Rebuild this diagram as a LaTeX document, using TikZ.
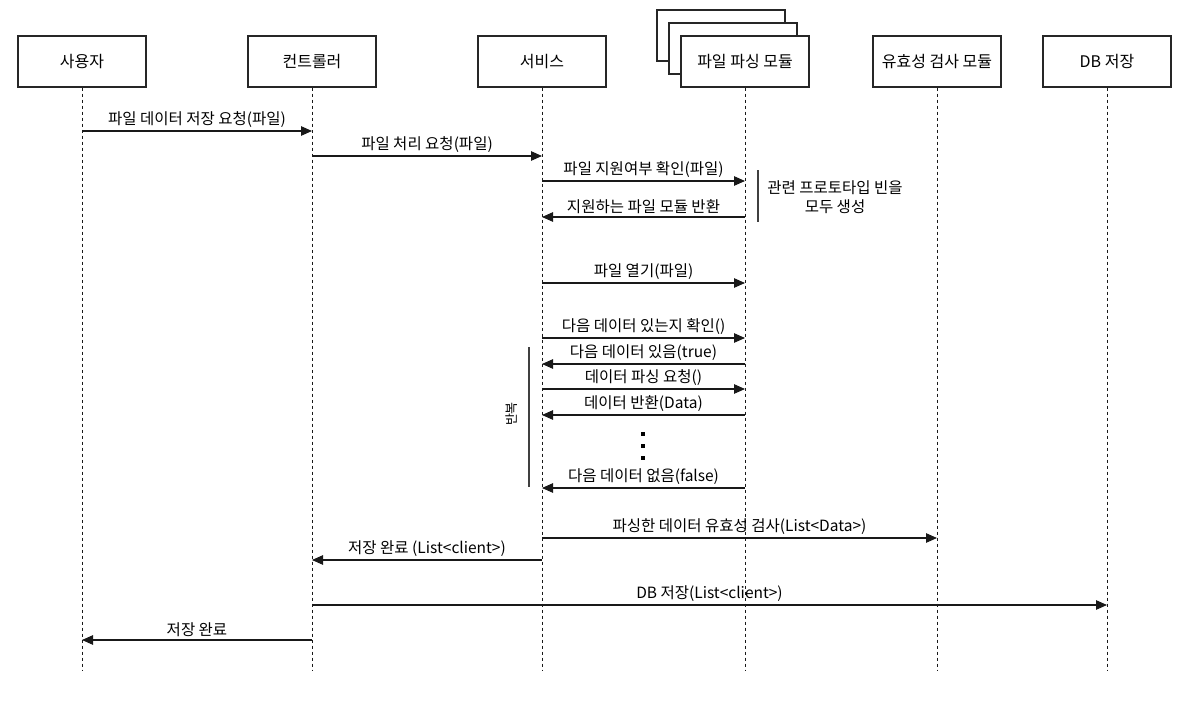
\documentclass[tikz,border=0pt]{standalone}
\usepackage{fontspec}
\setmainfont{Noto Sans CJK KR}
\usetikzlibrary{arrows.meta}
\tikzset{
  actor/.style={draw=black!85,line width=1.1pt,fill=white,minimum width=128pt,minimum height=51pt,inner sep=0pt,font=\fontsize{16}{18}\selectfont},
  life/.style={draw=black!90,line width=1pt,dash pattern=on 3pt off 3pt},
  msg/.style={draw=black!90,line width=1.1pt,-{Triangle[length=11pt,width=9.5pt]}},
  lbl/.style={font=\fontsize{15.5}{17}\selectfont,inner sep=1pt,anchor=south,yshift=2pt},
  bar/.style={draw=black!75,line width=1.2pt},
  dot/.style={fill=black,minimum width=3.5pt,minimum height=4.5pt,inner sep=0pt}
}
\begin{document}
\begin{tikzpicture}[x=1pt,y=-1pt]
\useasboundingbox (0,0) rectangle (1197,709);
% stacked boxes behind parser
\draw[draw=black!85,line width=1.1pt,fill=white] (657,10) rectangle (785,61);
\draw[draw=black!85,line width=1.1pt,fill=white] (669,23) rectangle (797,74);
% actors
\node[actor] (usr) at (82,61.5) {사용자};
\node[actor] (ctl) at (312,61.5) {컨트롤러};
\node[actor] (svc) at (542,61.5) {서비스};
\node[actor] (prs) at (745,61.5) {파일 파싱 모듈};
\node[actor] (val) at (937,61.5) {유효성 검사 모듈};
\node[actor] (db) at (1107,61.5) {DB 저장};
% lifeline ends
\coordinate (usrE) at (82,670);
\coordinate (ctlE) at (312,670);
\coordinate (svcE) at (542,670);
\coordinate (prsE) at (745,670);
\coordinate (valE) at (937,670);
\coordinate (dbE) at (1107,670);
\foreach \n in {usr,ctl,svc,prs,val,db}{\draw[life] (\n.south) -- (\n E);}
% messages
\draw[msg] (usr |- 0,131) -- node[lbl] {파일 데이터 저장 요청(파일)} (ctl |- 0,131);
\draw[msg] (ctl |- 0,156) -- node[lbl] {파일 처리 요청(파일)} (svc |- 0,156);
\draw[msg] (svc |- 0,181) -- node[lbl] {파일 지원여부 확인(파일)} (prs |- 0,181);
\draw[msg] (prs |- 0,217) -- node[lbl] {지원하는 파일 모듈 반환} (svc |- 0,217);
\draw[msg] (svc |- 0,283) -- node[lbl] {파일 열기(파일)} (prs |- 0,283);
\draw[msg] (svc |- 0,338) -- node[lbl] {다음 데이터 있는지 확인()} (prs |- 0,338);
\draw[msg] (prs |- 0,364) -- node[lbl] {다음 데이터 있음(true)} (svc |- 0,364);
\draw[msg] (svc |- 0,389) -- node[lbl] {데이터 파싱 요청()} (prs |- 0,389);
\draw[msg] (prs |- 0,415) -- node[lbl] {데이터 반환(Data)} (svc |- 0,415);
\draw[msg] (prs |- 0,488) -- node[lbl] {다음 데이터 없음(false)} (svc |- 0,488);
\draw[msg] (svc |- 0,538) -- node[lbl] {파싱한 데이터 유효성 검사(List<Data>)} (val |- 0,538);
\draw[msg] (svc |- 0,560) -- node[lbl] {저장 완료 (List<client>)} (ctl |- 0,560);
\draw[msg] (ctl |- 0,605) -- node[lbl] {DB 저장(List<client>)} (db |- 0,605);
\draw[msg] (ctl |- 0,640) -- node[lbl] {저장 완료} (usr |- 0,640);
% note
\coordinate (nT) at (758,170);
\coordinate (nB) at (758,222);
\draw[bar] (nT) -- (nB);
\node[font=\fontsize{15.5}{19}\selectfont,align=center] (note) at (835,197.5) {관련 프로토타입 빈을\\모두 생성};
% loop
\coordinate (lT) at (529,347);
\coordinate (lB) at (529,487);
\draw[bar] (lT) -- (lB);
\node[font=\fontsize{13}{14}\selectfont,rotate=90,inner sep=0pt] (loop) at (512,414) {반복};
% dots
\node[dot] (d1) at (643,434) {};
\node[dot] (d2) at (643,446) {};
\node[dot] (d3) at (643,458) {};
\end{tikzpicture}
\end{document}
